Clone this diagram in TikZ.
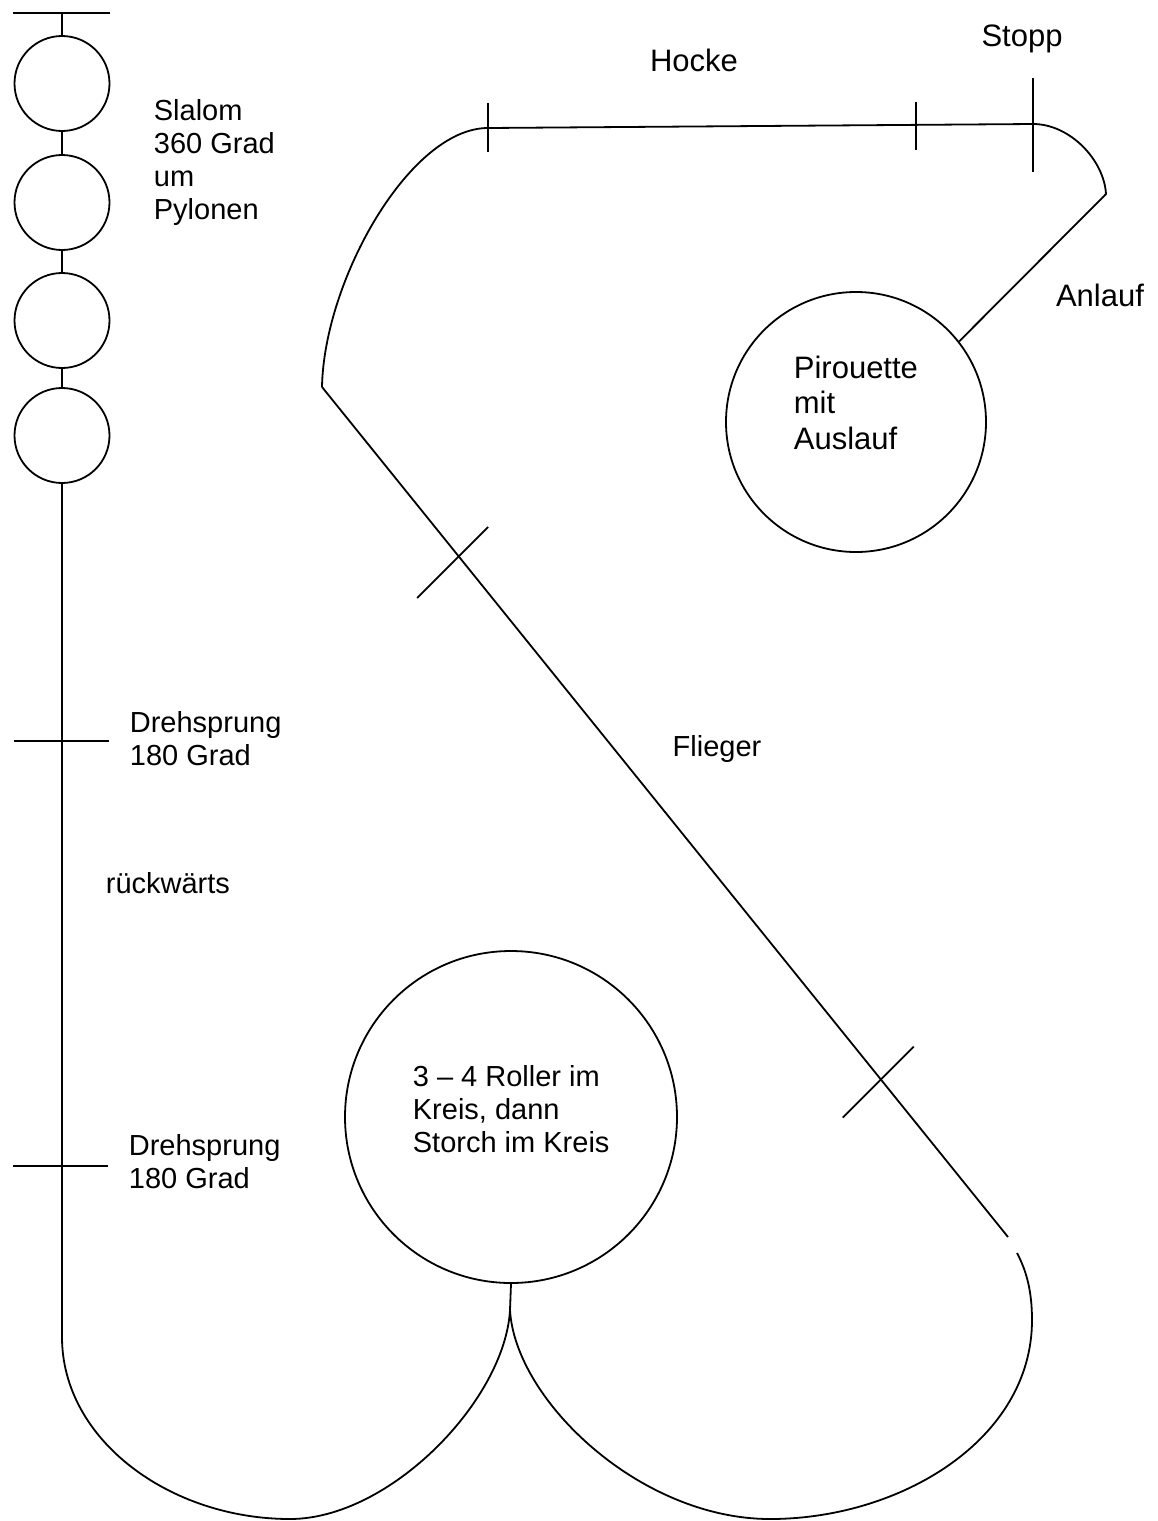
\documentclass[tikz,border=0pt]{standalone}
\usepackage{fontspec}
\setmainfont{Liberation Sans}
\usetikzlibrary{calc}

\begin{document}
\begin{tikzpicture}[x=1pt,y=-1pt,line width=1.8pt,
    ring/.style={draw,circle,inner sep=0pt},
    lbl/.style={font=\fontsize{29}{33}\selectfont,align=left,inner sep=0pt},
    lblbig/.style={font=\fontsize{31}{35.5}\selectfont,align=left,inner sep=0pt}]
    \useasboundingbox (0,0) rectangle (1158,1521);

    \draw (13,13) -- (110,13);
    \coordinate (start) at (62,13);
    \foreach \i/\y in {1/83.5,2/202.5,3/320.5,4/435.5}{
        \node[ring,minimum size=95pt] (p\i) at (62,\y) {};
    }
    \draw (start) -- (p1) (p1) -- (p2) (p2) -- (p3) (p3) -- (p4);
    \draw (14,741) -- (109,741);
    \draw (13,1166) -- (108,1166);

    \node[ring,minimum size=332pt] (roller) at (511,1117) {};
    \node[ring,minimum size=260pt] (pir) at (856,422) {};
    \coordinate (cusp) at (510,1310);

    \draw (p4) -- (62,1337) .. controls (62,1440) and (170,1519) .. (290,1519)
        .. controls (390,1519) and (505,1400) .. (cusp) -- (roller.south);
    \draw (cusp) .. controls (515,1400) and (640,1519) .. (770,1519)
        .. controls (900,1519) and (1032,1440) .. (1032,1320)
        .. controls (1032,1290) and (1026,1270) .. (1017,1253);

    \coordinate (fa) at (322,387);
    \coordinate (fb) at (1008,1237);
    \draw (fa) -- (fb);
    \draw ($(fa)!0.2!(fb)$) ++(-42,41) -- ++(71,-71);
    \draw ($(fa)!0.816!(fb)$) ++(-39,37) -- ++(71,-71);

    \draw (fa) .. controls (324,280) and (410,128) .. (488,128)
        -- (1033,124) .. controls (1070,124) and (1104,160) .. (1106,194) -- (pir.38);
    \draw (488,103) -- (488,152);
    \draw (916,102) -- (916,150);
    \draw (1033,78) -- (1033,172);

    \node[lbl,anchor=north west] (slalom) at (153,99) {Slalom\\360 Grad\\um\\Pylonen};
    \node[lbl,anchor=north west] (dreh1) at (129,711) {Drehsprung\\180 Grad};
    \node[lbl,anchor=base west] (rueck) at (105,893) {rückwärts};
    \node[lbl,anchor=north west] (dreh2) at (128,1134) {Drehsprung\\180 Grad};
    \node[lbl,anchor=north west] (rolltxt) at (412,1065) {3 – 4 Roller im\\Kreis, dann\\Storch im Kreis};
    \node[lbl,anchor=base] (flieger) at (717,756) {Flieger};
    \node[lblbig,anchor=base] (hocke) at (694,71) {Hocke};
    \node[lblbig,anchor=base] (stopp) at (1022,46) {Stopp};
    \node[lblbig,anchor=base] (anlauf) at (1100,306) {Anlauf};
    \node[lblbig,anchor=north west] (pirtxt) at (793,355) {Pirouette\\mit\\Auslauf};
\end{tikzpicture}
\end{document}
